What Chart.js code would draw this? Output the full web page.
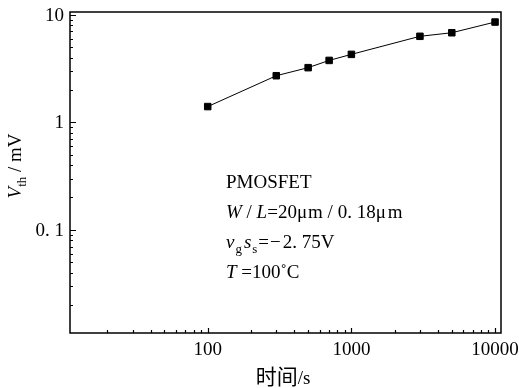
<!DOCTYPE html>
<html>
<head>
<meta charset="utf-8">
<script src="https://cdn.jsdelivr.net/npm/chart.js"></script>
<style>
  html, body { margin: 0; padding: 0; background: #fff; }
  #wrap { width: 519px; height: 388px; position: relative; }
</style>
</head>
<body>
<div id="wrap"><canvas id="chart"></canvas></div>
<script>
// stress time (s) and threshold voltage shift (mV)
const times = [100, 300, 500, 700, 1000, 3000, 5000, 10000];
const vth = [1.40, 2.71, 3.22, 3.76, 4.28, 6.30, 6.80, 8.55];

const xTickLabels = [100, 1000, 10000];
const yTickLabels = [0.1, 1, 10];
const yTickText = ['0. 1', '1', '10'];

const SERIF = '"Liberation Serif", "Noto Sans CJK SC", serif';

// all 1..9 x 10^n values between min and max (for minor ticks)
function logTicks(min, max) {
  let out = [];
  for (let e = Math.floor(Math.log10(min)); e <= Math.ceil(Math.log10(max)); e++) {
    for (let m = 1; m < 10; m++) {
      let v = +(m * Math.pow(10, e)).toPrecision(6);
      if (v >= min && v <= max) out.push(v);
    }
  }
  return out;
}

// draw a list of text runs (italic / subscript) starting at x
function drawRuns(ctx, runs, x, y, size) {
  runs.forEach(r => {
    let s = r.sub ? size * 0.68 : size;
    ctx.font = (r.it ? 'italic ' : '') + s + 'px ' + SERIF;
    ctx.fillText(r.t, x, y + (r.sub ? size * 0.28 : 0));
    x += ctx.measureText(r.t).width + (r.gap || 0);
  });
  return x;
}
function runsWidth(ctx, runs, size) {
  let w = 0;
  runs.forEach(r => {
    let s = r.sub ? size * 0.68 : size;
    ctx.font = (r.it ? 'italic ' : '') + s + 'px ' + SERIF;
    w += ctx.measureText(r.t).width + (r.gap || 0);
  });
  return w;
}

const framePlugin = {
  id: 'frame',
  afterDraw(chart) {
    const ctx = chart.ctx;
    const a = chart.chartArea;
    const xs = chart.scales.x, ys = chart.scales.y;
    ctx.save();
    ctx.strokeStyle = '#000';
    ctx.lineWidth = 1.5;
    ctx.strokeRect(a.left, a.top, a.right - a.left, a.bottom - a.top);

    // inside ticks, bottom and left only
    ctx.lineWidth = 1.2;
    ctx.beginPath();
    logTicks(xs.min, xs.max).forEach(v => {
      let px = Math.round(xs.getPixelForValue(v)) + 0.5;
      let len = xTickLabels.includes(v) ? 5 : 3;
      ctx.moveTo(px, a.bottom);
      ctx.lineTo(px, a.bottom - len);
    });
    logTicks(ys.min, ys.max).forEach(v => {
      let py = Math.round(ys.getPixelForValue(v)) + 0.5;
      let len = yTickLabels.includes(v) ? 6 : 3;
      ctx.moveTo(a.left, py);
      ctx.lineTo(a.left + len, py);
    });
    ctx.stroke();

    ctx.fillStyle = '#000';

    // tick labels
    ctx.font = '19px ' + SERIF;
    ctx.textBaseline = 'middle';
    ctx.textAlign = 'center';
    xTickLabels.forEach(v => ctx.fillText(String(v), xs.getPixelForValue(v), a.bottom + 17));
    ctx.textAlign = 'right';
    yTickLabels.forEach((v, i) => ctx.fillText(yTickText[i], a.left - 6, ys.getPixelForValue(v) + 1));

    ctx.textBaseline = 'alphabetic';
    ctx.textAlign = 'left';

    // y axis title
    const ytitle = [{t: 'V', it: true}, {t: 'th', sub: true}, {t: ' / mV'}];
    ctx.save();
    ctx.translate(21, 166);
    ctx.rotate(-Math.PI / 2);
    let w = runsWidth(ctx, ytitle, 19);
    drawRuns(ctx, ytitle, -w / 2, 0, 19);
    ctx.restore();

    // x axis title
    const xtitle = [{t: '时间'}, {t: '/s'}];
    ctx.font = '21px "Noto Sans CJK SC"';
    let cw = ctx.measureText('时间').width;
    ctx.font = '19px ' + SERIF;
    let sw = ctx.measureText('/s').width;
    let x0 = 283 - (cw + sw) / 2;
    ctx.font = '21px "Noto Sans CJK SC"';
    ctx.fillText(xtitle[0].t, x0, 384);
    ctx.font = '19px ' + SERIF;
    ctx.fillText(xtitle[1].t, x0 + cw, 384);

    // annotation
    const lines = [
      [{t: 'PMOSFET'}],
      [{t: 'W', it: true}, {t: ' / '}, {t: 'L', it: true}, {t: '=20μ', gap: 1}, {t: 'm / 0. 18μ', gap: 2}, {t: 'm'}],
      [{t: 'v', it: true, gap: 1}, {t: 'g', sub: true, gap: 2}, {t: 's', it: true, gap: 1}, {t: 's', sub: true, gap: 1}, {t: '=', gap: 1}, {t: '−', gap: 2}, {t: '2. 75V'}],
      [{t: 'T', it: true}, {t: ' =100˚C'}]
    ];
    const base = [188, 218, 248, 278];
    lines.forEach((ln, i) => drawRuns(ctx, ln, 226, base[i], 19));
    ctx.restore();
  }
};

new Chart(document.getElementById('chart'), {
  type: 'line',
  data: {
    datasets: [{
      data: times.map((t, i) => ({x: t, y: vth[i]})),
      borderColor: '#000',
      borderWidth: 1,
      backgroundColor: '#000',
      pointStyle: 'rect',
      pointRadius: 4.6,
      pointBorderWidth: 1,
      pointBorderColor: '#000',
      pointBackgroundColor: '#000',
      tension: 0
    }]
  },
  options: {
    responsive: true,
    maintainAspectRatio: false,
    animation: false,
    layout: { padding: { top: 12, right: 18, left: 0, bottom: 0 } },
    plugins: { legend: { display: false }, tooltip: { enabled: false } },
    scales: {
      x: {
        type: 'logarithmic',
        min: 11,
        max: 11000,
        grid: { display: false, drawTicks: false },
        border: { display: false },
        ticks: { display: false },
        afterFit(s) { s.height = 55; }
      },
      y: {
        type: 'logarithmic',
        min: 0.011,
        max: 10.6,
        grid: { display: false, drawTicks: false },
        border: { display: false },
        ticks: { display: false },
        afterFit(s) { s.width = 70; }
      }
    }
  },
  plugins: [framePlugin]
});
</script>
</body>
</html>
